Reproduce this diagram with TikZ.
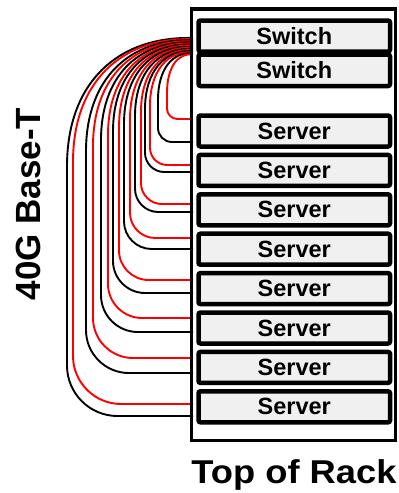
\documentclass[tikz,border=0pt]{standalone}
\usepackage{fontspec}
\setmainfont{Liberation Sans}
\begin{document}
\begin{tikzpicture}[x=1pt,y=-1pt,
  unitbox/.style={draw=black, fill=black!6, line width=4.5pt, rounded corners=2pt,
    minimum width=191.5pt, inner sep=0pt, outer sep=0pt,
    font=\fontsize{23.5}{28}\selectfont\bfseries},
  rackbox/.style={draw=black, line width=3.5pt, inner sep=0pt, outer sep=0pt},
  cable/.style={line width=1.9pt},
  bigtext/.style={font=\fontsize{35}{40}\selectfont\bfseries, inner sep=0pt}]
\useasboundingbox (0,0) rectangle (399,493);

% cables: vertical x, entry y, colour
\foreach \xv/\ye/\col [count=\j from 0] in
  {67/416/black, 73/404/red, 86/373/black, 93/358/red,
   101/332/black, 108/318/red, 113/293/black, 119/280/red,
   124/249/black, 130/238/red, 135/212/black, 141/204/red,
   145/172/black, 150/165/red, 158/142/black, 167/119/red}{
  \pgfmathsetmacro{\ys}{38+1.1*\j}
  \pgfmathsetmacro{\d}{193-\xv}
  \pgfmathsetmacro{\v}{15+0.9*\d}
  \pgfmathsetmacro{\r}{0.4*\d}
  \coordinate (swp\j) at (193,\ys);
  \coordinate (srvp\j) at (193,\ye);
  \draw[cable, draw=\col] (swp\j)
     .. controls ({\xv+0.4*\d},{\ys-2}) and (\xv,{\ys+0.35*\v}) .. (\xv,{\ys+\v})
     -- (\xv,{\ye-\r})
     .. controls (\xv,{\ye-0.45*\r}) and ({\xv+0.45*\r},\ye) .. ({\xv+\r},\ye)
     -- (srvp\j);
}

% rack
\node[rackbox, minimum width=204pt, minimum height=431.5pt] (rack) at (293.5,224.75) {};

% switches
\node[unitbox, minimum height=31pt] (sw1) at (294.25,36) {Switch};
\node[unitbox, minimum height=31.5pt] (sw2) at (294.25,70.25) {Switch};

% servers
\foreach \k in {1,...,8}{
  \node[unitbox, minimum height=31pt] (srv\k) at (294.25,{131+(\k-1)*39.4}) {Server};
}

% labels
\node[bigtext, rotate=90, anchor=base] (lbl) at (40,204) {40G Base-T};
\node[inner sep=0pt, anchor=base, xscale=1.1, font=\fontsize{33}{38}\selectfont\bfseries] (tor) at (294,483) {Top of Rack};
\end{tikzpicture}
\end{document}
